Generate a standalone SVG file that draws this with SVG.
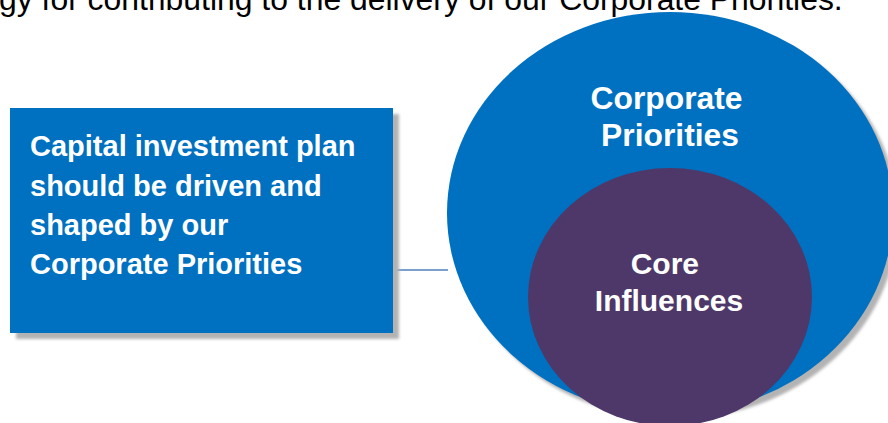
<svg xmlns="http://www.w3.org/2000/svg" width="888" height="423" viewBox="0 0 888 423">
<defs>
<filter id="blur" x="-10%" y="-10%" width="120%" height="120%"><feGaussianBlur stdDeviation="1.5"/></filter>
</defs>
<style>
.hdr{font-family:"Liberation Sans",Arial,sans-serif;font-size:31.9px;fill:#000}
.lbl{font-family:"Liberation Sans",Arial,sans-serif;font-weight:bold;fill:#fff}
.shadow{fill:#b3b3b3;filter:url(#blur)}
</style>
<rect width="888" height="423" fill="#fff"/>
<text class="hdr" x="-1" y="9.5">gy for contributing to the delivery of our Corporate Priorities.</text>
<g id="connectors">
<line x1="393" y1="270" x2="448" y2="270" stroke="#4F81BD" stroke-width="1.5"/>
</g>
<g id="plan-box">
<rect class="shadow" x="16" y="114" width="383" height="225"/>
<rect x="10" y="108" width="383" height="225" fill="#0070C0"/>
<text class="lbl" font-size="29" x="30">
<tspan x="30" y="156">Capital investment plan</tspan>
<tspan x="30" y="195.5">should be driven and</tspan>
<tspan x="30" y="235">shaped by our</tspan>
<tspan x="30" y="274">Corporate Priorities</tspan>
</text>
</g>
<g id="corporate-priorities">
<ellipse class="shadow" cx="675" cy="218" rx="223" ry="201"/>
<ellipse cx="670" cy="213" rx="223" ry="201" fill="#0070C0"/>
<text class="lbl" font-size="31.8" text-anchor="middle">
<tspan x="671" y="108.5">Corporate</tspan>
<tspan x="670" y="145.5">Priorities</tspan>
</text>
</g>
<g id="core-influences">
<ellipse cx="670" cy="297" rx="142" ry="129" fill="#4E3869"/>
<text class="lbl" font-size="30" text-anchor="middle">
<tspan x="669" y="274">Core</tspan>
<tspan x="669" y="310.5">Influences</tspan>
</text>
</g>
</svg>
